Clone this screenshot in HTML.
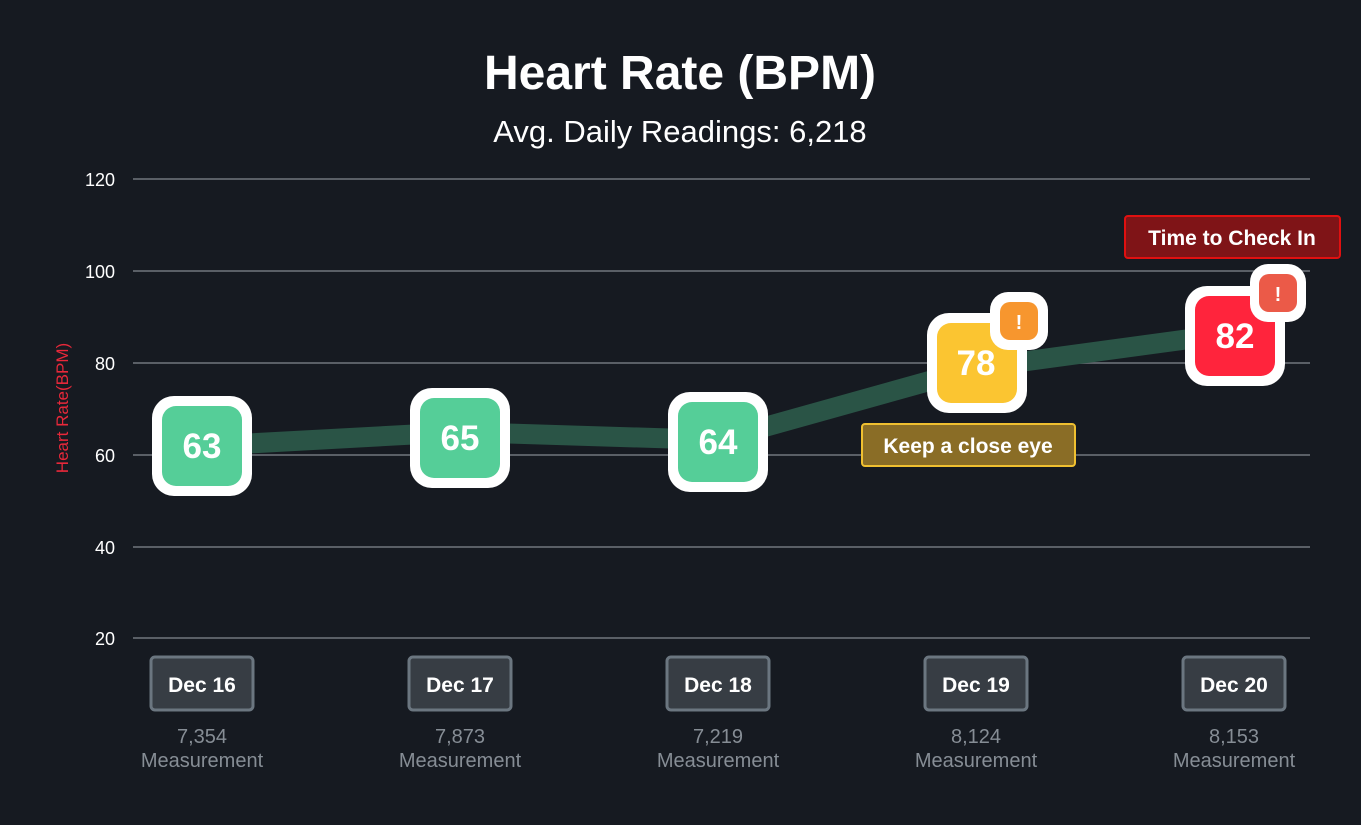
<!DOCTYPE html>
<html><head><style>
body{margin:0;background:#161a21;}
svg text{font-family:"Liberation Sans",sans-serif;}
</style></head><body>
<svg width="1361" height="820" viewBox="0 0 1361 820" xmlns="http://www.w3.org/2000/svg">
<rect x="0" y="0" width="1361" height="820" fill="#161a21"/>
<text x="680" y="89" fill="#fff" font-size="48" font-weight="bold" text-anchor="middle">Heart Rate (BPM)</text>
<text x="680" y="142" fill="#fff" font-size="31" text-anchor="middle">Avg. Daily Readings: 6,218</text>
<g stroke="#5a5f66" stroke-width="2">
<line x1="133" y1="179" x2="1310" y2="179"/><line x1="133" y1="271" x2="1310" y2="271"/>
<line x1="133" y1="363" x2="1310" y2="363"/><line x1="133" y1="455" x2="1310" y2="455"/>
<line x1="133" y1="547" x2="1310" y2="547"/><line x1="133" y1="638" x2="1310" y2="638"/>
</g>
<g fill="#fff" font-size="18" text-anchor="end">
<text x="115" y="186">120</text><text x="115" y="278">100</text><text x="115" y="370">80</text>
<text x="115" y="462">60</text><text x="115" y="554">40</text><text x="115" y="645">20</text>
</g>
<text transform="translate(68,408) rotate(-90)" fill="#e8283a" font-size="17" text-anchor="middle">Heart Rate(BPM)</text>
<polyline points="202,446 460,432 718,440 976,368 1234,333" fill="none" stroke="#2a5446" stroke-width="20" stroke-linejoin="round"/>
<g>
<rect x="152" y="396" width="100" height="100" rx="22" fill="#fff"/><rect x="162" y="406" width="80" height="80" rx="14" fill="#55ce98"/>
<text x="202" y="458" fill="#fff" font-size="35" font-weight="bold" text-anchor="middle">63</text>
<rect x="410" y="388" width="100" height="100" rx="22" fill="#fff"/><rect x="420" y="398" width="80" height="80" rx="14" fill="#55ce98"/>
<text x="460" y="450" fill="#fff" font-size="35" font-weight="bold" text-anchor="middle">65</text>
<rect x="668" y="392" width="100" height="100" rx="22" fill="#fff"/><rect x="678" y="402" width="80" height="80" rx="14" fill="#55ce98"/>
<text x="718" y="454" fill="#fff" font-size="35" font-weight="bold" text-anchor="middle">64</text>
<rect x="927" y="313" width="100" height="100" rx="22" fill="#fff"/><rect x="937" y="323" width="80" height="80" rx="14" fill="#fbc531"/>
<text x="976" y="375" fill="#fff" font-size="35" font-weight="bold" text-anchor="middle">78</text>
<rect x="990" y="292" width="58" height="58" rx="18" fill="#fff"/><rect x="1000" y="302" width="38" height="38" rx="10" fill="#f7962e"/>
<text x="1019" y="329" fill="#fff" font-size="20" font-weight="bold" text-anchor="middle">!</text>
<rect x="1185" y="286" width="100" height="100" rx="22" fill="#fff"/><rect x="1195" y="296" width="80" height="80" rx="14" fill="#ff243c"/>
<text x="1235" y="348" fill="#fff" font-size="35" font-weight="bold" text-anchor="middle">82</text>
<rect x="1250" y="264" width="56" height="58" rx="18" fill="#fff"/><rect x="1259" y="274" width="38" height="38" rx="10" fill="#eb5a48"/>
<text x="1278" y="301" fill="#fff" font-size="20" font-weight="bold" text-anchor="middle">!</text>
</g>
<rect x="862" y="424" width="213" height="42" rx="3" fill="#8a6d26" stroke="#f0c030" stroke-width="2"/>
<text x="968" y="453" fill="#fff" font-size="21" font-weight="bold" text-anchor="middle">Keep a close eye</text>
<rect x="1125" y="216" width="215" height="42" rx="3" fill="#7f1417" stroke="#e01010" stroke-width="2"/>
<text x="1232" y="245" fill="#fff" font-size="21" font-weight="bold" text-anchor="middle">Time to Check In</text>
<g font-size="21" font-weight="bold" text-anchor="middle">
<rect x="151" y="657" width="102" height="53" rx="4" fill="#373d44" stroke="#6b7680" stroke-width="3"/><text x="202" y="692" fill="#fff">Dec 16</text>
<rect x="409" y="657" width="102" height="53" rx="4" fill="#373d44" stroke="#6b7680" stroke-width="3"/><text x="460" y="692" fill="#fff">Dec 17</text>
<rect x="667" y="657" width="102" height="53" rx="4" fill="#373d44" stroke="#6b7680" stroke-width="3"/><text x="718" y="692" fill="#fff">Dec 18</text>
<rect x="925" y="657" width="102" height="53" rx="4" fill="#373d44" stroke="#6b7680" stroke-width="3"/><text x="976" y="692" fill="#fff">Dec 19</text>
<rect x="1183" y="657" width="102" height="53" rx="4" fill="#373d44" stroke="#6b7680" stroke-width="3"/><text x="1234" y="692" fill="#fff">Dec 20</text>
</g>
<g font-size="20" fill="#868d95" text-anchor="middle">
<text x="202" y="743">7,354</text><text x="202" y="767">Measurement</text>
<text x="460" y="743">7,873</text><text x="460" y="767">Measurement</text>
<text x="718" y="743">7,219</text><text x="718" y="767">Measurement</text>
<text x="976" y="743">8,124</text><text x="976" y="767">Measurement</text>
<text x="1234" y="743">8,153</text><text x="1234" y="767">Measurement</text>
</g>
</svg>
</body></html>
